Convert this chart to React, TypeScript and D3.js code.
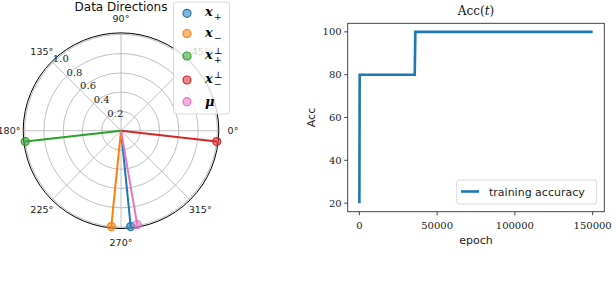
import React from 'react';
import * as d3 from 'd3';

// polar panel: data directions
const dirKeys = ['xp', 'xm', 'xpPerp', 'xmPerp', 'mu'];
const dirAngles = [275.8, 264.2, 186.5, 353.5, 279.8];
const dirRadii = [1.0, 1.0, 1.0, 1.0, 0.99];
const dirColors = ['#1f77b4', '#ff7f0e', '#2ca02c', '#d62728', '#e377c2'];
const ringTicks = [0.2, 0.4, 0.6, 0.8, 1.0];
const angleTicks = [0, 45, 90, 135, 180, 225, 270, 315];

// accuracy panel
const epochs = [0, 200, 35600, 36000, 150000];
const accuracy = [20, 80, 80, 100, 100];
const accTicks = [20, 40, 60, 80, 100];
const epochTicks = [0, 50000, 100000, 150000];

const W = 616;
const H = 284;

function LegendLabel({ k, x, y }: { k: string; x: number; y: number }) {
  const base = { fontFamily: 'DejaVu Serif', fontStyle: 'italic', fontWeight: 'bold' as const };
  if (k === 'mu') {
    return <text x={x} y={y + 4} fontSize={13} {...base}>μ</text>;
  }
  const sub = k.startsWith('xp') ? '+' : '−';
  const perp = k.endsWith('Perp');
  return (
    <g>
      <text x={x} y={y + 3} fontSize={13} {...base}>x</text>
      <text x={x + 9} y={y + 7} fontSize={9} fontFamily="DejaVu Serif">{sub}</text>
      {perp && <text x={x + 9} y={y - 2} fontSize={9} fontFamily="DejaVu Serif">⊥</text>}
    </g>
  );
}

function PolarPanel() {
  const cx = 121;
  const cy = 130.7;
  const r = d3.scaleLinear().domain([0, 1.015]).range([0, 97.8]);
  const pt = (deg: number, rad: number) => {
    const a = (deg * Math.PI) / 180;
    return [cx + rad * Math.cos(a), cy - rad * Math.sin(a)];
  };
  const rMax = r(1.015);

  return (
    <g>
      <text x={cx} y={11} textAnchor="middle" fontSize={12} fontFamily="DejaVu Sans" fill="#111">
        Data Directions
      </text>
      {ringTicks.map(t => (
        <circle key={t} cx={cx} cy={cy} r={r(t)} fill="none" stroke="#b0b0b0" strokeWidth={0.8} />
      ))}
      {angleTicks.map(a => {
        const [x2, y2] = pt(a, rMax);
        return <line key={a} x1={cx} y1={cy} x2={x2} y2={y2} stroke="#b0b0b0" strokeWidth={0.8} />;
      })}
      <circle cx={cx} cy={cy} r={rMax} fill="none" stroke="#000" strokeWidth={1} />
      {angleTicks.map(a => {
        const [x, y] = pt(a, 112);
        return (
          <text key={a} x={x} y={y + 3.5} textAnchor="middle" fontSize={9.5} fontFamily="DejaVu Sans" fill="#222">
            {a}°
          </text>
        );
      })}
      {ringTicks.map(t => {
        const [x, y] = pt(135, r(t));
        return (
          <text key={t} x={x} y={y - 0.5} fontSize={10} fontFamily="DejaVu Serif" fill="#222">
            {t.toFixed(1)}
          </text>
        );
      })}
      {dirKeys.map((k, i) => {
        const [x2, y2] = pt(dirAngles[i], r(dirRadii[i]));
        return (
          <g key={k}>
            <line x1={cx} y1={cy} x2={x2} y2={y2} stroke={dirColors[i]} strokeWidth={2} />
            <circle cx={x2} cy={y2} r={4} fill={dirColors[i]} fillOpacity={0.55} stroke={dirColors[i]} strokeWidth={1.2} />
          </g>
        );
      })}
      {/* legend */}
      <rect x={173.5} y={2} width={56} height={112} rx={2.5} fill="#fff" fillOpacity={0.8} stroke="#d0d0d0" strokeWidth={0.8} />
      {dirKeys.map((k, i) => {
        const ly = [13.3, 33.5, 56, 80, 101.7][i];
        return (
          <g key={k}>
            <circle cx={187} cy={ly} r={4} fill={dirColors[i]} fillOpacity={0.55} stroke={dirColors[i]} strokeWidth={1.2} />
            <LegendLabel k={k} x={205} y={ly} />
          </g>
        );
      })}
    </g>
  );
}

function AccPanel() {
  const left = 347.7;
  const right = 604.3;
  const top = 23.3;
  const bottom = 211.7;
  const x = d3.scaleLinear().domain([-7500, 157500]).range([left, right]);
  const y = d3.scaleLinear().domain([16, 104]).range([bottom, top]);
  const line = d3.line<number>().x((_, i) => x(epochs[i])).y(d => y(d));

  return (
    <g>
      <text x={(left + right) / 2} y={15} textAnchor="middle" fontSize={12} fontFamily="DejaVu Serif" fill="#111">
        Acc(<tspan fontStyle="italic">t</tspan>)
      </text>
      <path d={line(accuracy) || ''} fill="none" stroke="#1f77b4" strokeWidth={2.6} />
      <rect x={left} y={top} width={right - left} height={bottom - top} fill="none" stroke="#333" strokeWidth={0.9} />
      {accTicks.map(t => (
        <g key={t} transform={`translate(${left},${y(t)})`}>
          <line x1={-3.5} x2={0} stroke="#333" strokeWidth={0.9} />
          <text x={-6} y={3.6} textAnchor="end" fontSize={10} fontFamily="DejaVu Serif" fill="#222">{t}</text>
        </g>
      ))}
      {epochTicks.map(t => (
        <g key={t} transform={`translate(${x(t)},${bottom})`}>
          <line y1={0} y2={3.5} stroke="#333" strokeWidth={0.9} />
          <text y={17} textAnchor="middle" fontSize={10} fontFamily="DejaVu Serif" fill="#222">{t}</text>
        </g>
      ))}
      <text x={(left + right) / 2} y={244} textAnchor="middle" fontSize={11} fontFamily="DejaVu Sans" fill="#222">epoch</text>
      <text transform={`translate(314.5,${(top + bottom) / 2}) rotate(-90)`} textAnchor="middle" fontSize={11} fontFamily="DejaVu Sans" fill="#222">
        Acc
      </text>
      {/* legend */}
      <rect x={456.7} y={180} width={140} height={24} rx={2.5} fill="#fff" fillOpacity={0.8} stroke="#d0d0d0" strokeWidth={0.8} />
      <line x1={461} x2={479} y1={191.5} y2={191.5} stroke="#1f77b4" strokeWidth={2.6} />
      <text x={489} y={195.5} fontSize={11} fontFamily="DejaVu Sans" fill="#222">training accuracy</text>
    </g>
  );
}

export default function App() {
  return (
    <svg width={W} height={H} style={{ position: 'absolute', left: 0, top: 0, background: '#fff' }}>
      <PolarPanel />
      <AccPanel />
    </svg>
  );
}
